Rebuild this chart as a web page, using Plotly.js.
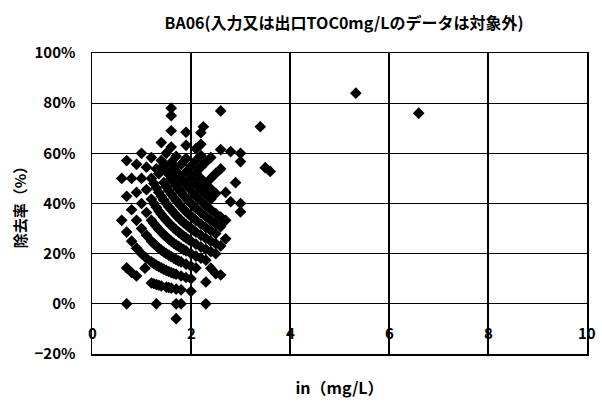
<!DOCTYPE html>
<html>
<head>
<meta charset="utf-8">
<script src="https://cdn.plot.ly/plotly-3.0.1.min.js"></script>
<style>html,body{margin:0;padding:0;background:#fff;}#chart{width:602px;height:403px;}</style>
</head>
<body>
<div id="chart"></div>
<script>
// Input TOC (mg/L)
var inputTOC = [
  0.6, 0.6,
  0.7, 0.7, 0.7, 0.7, 0.7,
  0.8, 0.8, 0.8, 0.8,
  0.9, 0.9, 0.9, 0.9, 0.9,
  1.0, 1.0, 1.0, 1.0, 1.0,
  1.1, 1.1, 1.1, 1.1, 1.1, 1.07,
  1.2, 1.2, 1.2, 1.2, 1.2, 1.2, 1.2,
  1.3, 1.3, 1.3, 1.3, 1.3, 1.3, 1.3, 1.3,
  1.4, 1.4, 1.4, 1.4, 1.4, 1.4, 1.4, 1.4,
  1.5, 1.5, 1.5, 1.5, 1.5, 1.5, 1.5, 1.5, 1.5,
  1.6, 1.6, 1.6, 1.6, 1.6, 1.6, 1.6, 1.6, 1.6, 1.6, 1.6, 1.6, 1.6,
  1.7, 1.7, 1.7, 1.7, 1.7, 1.7, 1.7, 1.7, 1.7, 1.7, 1.7, 1.7,
  1.8, 1.8, 1.8, 1.8, 1.8, 1.8, 1.8, 1.8, 1.8, 1.8, 1.8,
  1.9, 1.9, 1.9, 1.9, 1.9, 1.9, 1.9, 1.9, 1.9, 1.9, 1.9, 1.9,
  2.0, 2.0, 2.0, 2.0, 2.0, 2.0, 2.0, 2.0, 2.0, 2.0,
  2.1, 2.1, 2.1, 2.1, 2.1, 2.1, 2.1, 2.1, 2.1, 2.1, 2.1,
  2.2, 2.2, 2.2, 2.2, 2.2, 2.2, 2.2, 2.2, 2.2, 2.2, 2.2, 2.2,
  2.25, 2.3, 2.3, 2.3, 2.3, 2.3, 2.3, 2.3, 2.3, 2.3, 2.3, 2.3,
  2.4, 2.4, 2.4, 2.4, 2.4, 2.4, 2.4, 2.4, 2.4, 2.4,
  2.5, 2.5, 2.5, 2.5, 2.5, 2.5, 2.5, 2.5,
  2.6, 2.6, 2.6, 2.6, 2.6, 2.6, 2.6,
  2.7, 2.7, 2.7,
  2.8, 2.8,
  2.9,
  3.0, 3.0, 3.0, 3.0,
  3.4, 3.5, 3.6,
  5.33, 6.6,
  // extra readings inside the dense core
  1.25, 1.25, 1.25, 1.25, 1.25, 1.25,
  1.35, 1.35, 1.35, 1.35, 1.35, 1.35, 1.35,
  1.45, 1.45, 1.45, 1.45, 1.45, 1.45, 1.45,
  1.55, 1.55, 1.55, 1.55, 1.55, 1.55, 1.55, 1.55,
  1.65, 1.65, 1.65, 1.65, 1.65, 1.65, 1.65, 1.65,
  1.75, 1.75, 1.75, 1.75, 1.75, 1.75, 1.75,
  1.85, 1.85, 1.85, 1.85, 1.85, 1.85,
  1.95, 1.95, 1.95, 1.95, 1.95,
  2.05, 2.05, 2.05, 2.05
];
// Removal rate (%) for each point above
var removalRate = [
  50.0, 33.3,
  57.1, 42.9, 28.6, 14.3, 0,
  50.0, 37.5, 25.0, 12.5,
  55.6, 44.4, 33.3, 22.2, 11.1,
  60.0, 50.0, 40.0, 30.0, 20.0,
  54.5, 45.5, 36.4, 27.3, 18.2, 14.2,
  58.3, 50.0, 41.7, 33.3, 25.0, 16.7, 8.3,
  53.8, 46.2, 38.5, 30.8, 23.1, 15.4, 7.7, 0,
  64.3, 57.1, 42.9, 35.7, 28.6, 21.4, 14.3, 7.1,
  60.0, 53.3, 46.7, 40.0, 33.3, 26.7, 20.0, 13.3, 6.7,
  78.0, 75.0, 69.0, 62.5, 56.3, 50.0, 43.8, 37.5, 31.3, 25.0, 18.8, 12.5, 6.3,
  58.8, 52.9, 47.1, 41.2, 35.3, 29.4, 23.5, 17.6, 11.8, 5.9, 0, -5.9,
  55.6, 50.0, 44.4, 38.9, 33.3, 27.8, 22.2, 16.7, 11.1, 5.6, 0,
  68.4, 63.2, 57.9, 52.6, 47.4, 42.1, 36.8, 31.6, 26.3, 21.1, 15.8, 10.5,
  55.0, 50.0, 40.0, 35.0, 30.0, 25.0, 20.0, 15.0, 10.0, 5.0,
  61.9, 57.1, 52.4, 47.6, 42.9, 38.1, 33.3, 28.6, 23.8, 19.0, 14.3,
  68.2, 63.6, 59.1, 54.5, 50.0, 45.5, 40.9, 36.4, 31.8, 27.3, 22.7, 18.2,
  70.6, 56.5, 47.8, 43.5, 39.1, 34.8, 30.4, 26.1, 21.7, 17.4, 8.7, 0,
  58.3, 50.0, 45.8, 41.7, 37.5, 33.3, 29.2, 25.0, 20.8, 14.2,
  52.0, 44.0, 36.0, 32.0, 28.0, 24.0, 20.0, 12.0,
  76.9, 61.5, 53.8, 34.6, 30.8, 23.1, 11.5,
  44.4, 33.3, 25.9,
  60.7, 40.7,
  48.3,
  60.0, 56.7, 40.0, 36.7,
  70.6, 54.3, 52.8,
  84.0, 76.0,
  8.0, 16.0, 24.0, 32.0, 40.0, 48.0,
  7.4, 14.8, 22.2, 29.6, 37.0, 44.4, 51.9,
  13.8, 20.7, 27.6, 34.5, 41.4, 48.3, 55.2,
  6.5, 12.9, 19.4, 25.8, 32.3, 38.7, 45.2, 51.6,
  12.1, 18.2, 24.2, 30.3, 36.4, 42.4, 48.5, 54.5,
  17.1, 22.9, 28.6, 34.3, 40.0, 45.7, 51.4,
  21.6, 27.0, 32.4, 37.8, 43.2, 48.6,
  25.6, 30.8, 35.9, 41.0, 46.2,
  29.3, 34.1, 39.0, 43.9
];
var xTickValues = [0, 2, 4, 6, 8, 10];
var xTickLabels = ['0', '2', '4', '6', '8', '10'];
var chartTitle = 'BA06(入力又は出口TOC0mg/Lのデータは対象外)';
var xTitle = 'in（mg/L）';
var yTitle = '除去率（%）';

var FONT = '"Noto Sans CJK JP", "Noto Sans", sans-serif';

var trace = {
  type: 'scatter',
  mode: 'markers',
  x: inputTOC,
  y: removalRate,
  marker: {symbol: 'diamond', size: 9, color: '#000', line: {width: 0}},
  hoverinfo: 'skip',
  cliponaxis: false
};

var annotations = xTickValues.map(function (v, i) {
  return {
    x: v, y: -11.5, xref: 'x', yref: 'y',
    text: '<b>' + xTickLabels[i] + '</b>',
    showarrow: false,
    xanchor: 'center', yanchor: 'middle',
    font: {family: FONT, size: 15, color: '#000'}
  };
});

var layout = {
  width: 602,
  height: 403,
  margin: {l: 92, r: 15, t: 53, b: 49},
  paper_bgcolor: '#fff',
  plot_bgcolor: '#fff',
  showlegend: false,
  font: {family: FONT, color: '#000'},
  title: {
    text: '<b>' + chartTitle + '</b>',
    font: {family: FONT, size: 16, color: '#000'},
    xref: 'container', x: 344 / 602, xanchor: 'center',
    yref: 'container', y: 1 - 23 / 403, yanchor: 'middle'
  },
  xaxis: {
    range: [0, 10],
    tickvals: xTickValues,
    showticklabels: false,
    ticks: '',
    showgrid: true,
    gridcolor: '#000',
    gridwidth: 1.2,
    zeroline: false,
    showline: true,
    linecolor: '#000',
    linewidth: 1.5,
    mirror: true,
    title: {text: '<b>' + xTitle + '</b>', font: {family: FONT, size: 16, color: '#000'}, standoff: 28}
  },
  yaxis: {
    range: [-20, 100],
    dtick: 20,
    tick0: 0,
    ticksuffix: '%',
    ticks: '',
    ticklabelstandoff: 12,
    tickfont: {family: FONT, size: 15, color: '#000', weight: 'bold'},
    showgrid: true,
    gridcolor: '#000',
    gridwidth: 1.2,
    zeroline: false,
    showline: true,
    linecolor: '#000',
    linewidth: 1.5,
    mirror: true,
    title: {text: '<b>' + yTitle + '</b>', font: {family: FONT, size: 15, color: '#000'}, standoff: 4}
  },
  annotations: annotations
};

Plotly.newPlot('chart', [trace], layout, {staticPlot: true, displayModeBar: false});
</script>
</body>
</html>
